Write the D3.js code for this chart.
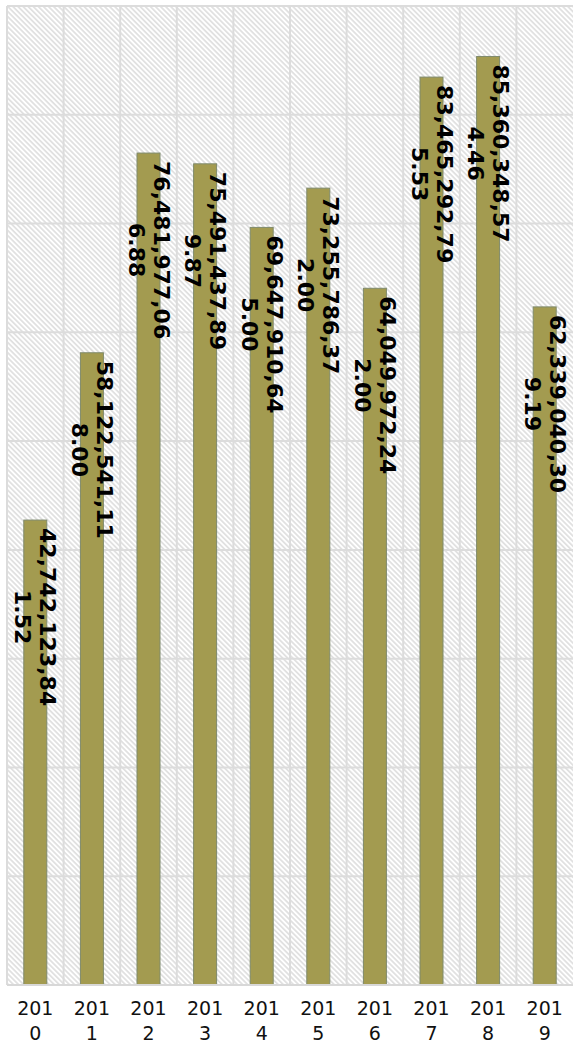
<!DOCTYPE html>
<html>
<head>
<meta charset="utf-8">
<script src="https://cdn.jsdelivr.net/npm/d3@7"></script>
<style>
  html, body { margin: 0; padding: 0; background: #fff; }
  svg { display: block; }
</style>
</head>
<body>
<svg id="chart" width="574" height="1045"></svg>
<script>
const categories = ["2010","2011","2012","2013","2014","2015","2016","2017","2018","2019"];
const values = [42742123841.52, 58122541118.00, 76481977066.88, 75491437899.87, 69647910645.00,
                73255786372.00, 64049972242.00, 83465292795.53, 85360348574.46, 62339040309.19];
const yTicks = [0,10e9,20e9,30e9,40e9,50e9,60e9,70e9,80e9,90e9];

const W = 574, H = 1045;
const m = { left: 7, right: 1, top: 6, bottom: 60 };
const svg = d3.select("#chart");

const defs = svg.append("defs");
const pat = defs.append("pattern").attr("id", "hatch").attr("patternUnits", "userSpaceOnUse")
  .attr("width", 3.6).attr("height", 3.6).attr("patternTransform", "rotate(-45)");
pat.append("rect").attr("width", 3.6).attr("height", 3.6).attr("fill", "#fff");
pat.append("line").attr("x1", 0.9).attr("x2", 0.9).attr("y1", 0).attr("y2", 3.6)
  .attr("stroke", "#cfcfcf").attr("stroke-width", 1.1);

const x = d3.scaleBand().domain(categories).range([m.left, W - m.right]).paddingInner(0).paddingOuter(0);
const y = d3.scaleLinear().domain([0, 90e9]).range([H - m.bottom, m.top]);

svg.append("rect").attr("x", m.left).attr("y", m.top)
  .attr("width", W - m.right - m.left).attr("height", H - m.bottom - m.top)
  .attr("fill", "url(#hatch)");

// horizontal grid
svg.append("g").selectAll("line").data(yTicks).join("line")
  .attr("x1", m.left).attr("x2", W - m.right)
  .attr("y1", d => y(d)).attr("y2", d => y(d))
  .attr("stroke", "#dcdcdc").attr("stroke-width", 2);
// vertical grid
svg.append("g").selectAll("line").data(categories).join("line")
  .attr("x1", d => x(d)).attr("x2", d => x(d))
  .attr("y1", m.top).attr("y2", H - m.bottom)
  .attr("stroke", "#dcdcdc").attr("stroke-width", 2);
svg.append("line").attr("x1", m.left).attr("x2", W - m.right).attr("y1", m.top).attr("y2", m.top)
  .attr("stroke", "#dcdcdc").attr("stroke-width", 2);

const barW = 23;
svg.append("g").selectAll("rect").data(values).join("rect")
  .attr("x", (d, i) => x(categories[i]) + x.bandwidth() / 2 - barW / 2)
  .attr("y", d => y(d))
  .attr("width", barW)
  .attr("height", d => y(0) - y(d))
  .attr("fill", "#a39b50")
  .attr("stroke", "#7f8a6c")
  .attr("stroke-width", 1);

// bottom axis line
svg.append("line").attr("x1", m.left).attr("x2", W - m.right)
  .attr("y1", y(0)).attr("y2", y(0)).attr("stroke", "#d8d8d8").attr("stroke-width", 2);

// value labels
const fmt = d3.format(",.2f");
const lg = svg.append("g");
values.forEach((v, i) => {
  const s = fmt(v);
  const l1 = s.slice(0, 13), l2 = s.slice(13);
  const cx = x(categories[i]) + x.bandwidth() / 2;
  const g = lg.append("g");
  const t = g.append("text")
    .attr("font-family", "DejaVu Sans").attr("font-weight", "bold").attr("font-size", 22)
    .attr("fill", "#000").attr("text-anchor", "middle");
  t.append("tspan").attr("x", 0).attr("y", -5).text(l1);
  t.append("tspan").attr("x", 0).attr("y", 20).text(l2);
  const len = t.select("tspan").node().getComputedTextLength();
  g.attr("transform", `translate(${cx},${y(v) + 8 + len / 2}) rotate(90)`);
});

// x-axis labels
const xl = svg.append("g");
categories.forEach(c => {
  const t = xl.append("text").attr("font-family", "DejaVu Sans").attr("font-size", 19)
    .attr("fill", "#111").attr("text-anchor", "middle");
  t.append("tspan").attr("x", x(c) + x.bandwidth() / 2).attr("y", 1015).text(c.slice(0, 3));
  t.append("tspan").attr("x", x(c) + x.bandwidth() / 2).attr("y", 1040).text(c.slice(3));
});
</script>
</body>
</html>
